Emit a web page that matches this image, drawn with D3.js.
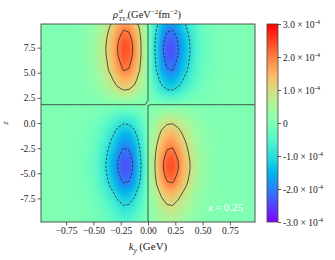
<!DOCTYPE html>
<html>
<head>
<meta charset="utf-8">
<script src="https://cdn.jsdelivr.net/npm/d3@7"></script>
<style>
  body { margin: 0; background: #fff; }
  text { font-family: "Liberation Serif", "DejaVu Serif", serif; fill: #222; }
</style>
</head>
<body>
<svg id="chart" width="335" height="260"></svg>
<script>
// grid: ky columns, z rows
var kyValues = [-0.975, -0.925, -0.875, -0.825, -0.775, -0.725, -0.675, -0.625, -0.575, -0.525,
  -0.475, -0.425, -0.375, -0.325, -0.275, -0.225, -0.175, -0.125, -0.075, -0.025,
  0.025, 0.075, 0.125, 0.175, 0.225, 0.275, 0.325, 0.375, 0.425, 0.475,
  0.525, 0.575, 0.625, 0.675, 0.725, 0.775, 0.825, 0.875, 0.925, 0.975];
var kyProfile = [0.0002, 0.0005, 0.001, 0.002, 0.004, 0.008, 0.015, 0.03, 0.055, 0.10,
  0.17, 0.29, 0.44, 0.62, 0.83, 0.98, 0.95, 0.76, 0.48, 0.17,
  -0.17, -0.48, -0.76, -0.95, -0.98, -0.83, -0.62, -0.44, -0.29, -0.17,
  -0.10, -0.055, -0.03, -0.015, -0.008, -0.004, -0.002, -0.001, -0.0005, -0.0002];
var zValues = [-9.75, -9.25, -8.75, -8.25, -7.75, -7.25, -6.75, -6.25, -5.75, -5.25,
  -4.75, -4.25, -3.75, -3.25, -2.75, -2.25, -1.75, -1.25, -0.75, -0.25,
  0.25, 0.75, 1.25, 1.75, 2.25, 2.75, 3.25, 3.75, 4.25, 4.75,
  5.25, 5.75, 6.25, 6.75, 7.25, 7.75, 8.25, 8.75, 9.25, 9.75];
var zProfile = [-0.22, -0.28, -0.34, -0.41, -0.48, -0.56, -0.66, -0.78, -0.87, -0.93,
  -0.98, -1.0, -0.98, -0.93, -0.87, -0.80, -0.72, -0.64, -0.55, -0.45,
  -0.35, -0.24, -0.13, -0.02, 0.12, 0.26, 0.41, 0.53, 0.63, 0.72,
  0.84, 0.89, 0.94, 0.98, 1.0, 0.99, 0.96, 0.90, 0.83, 0.74];
var peak = 2.45e-4;
var contourLevels = [-2e-4, -1e-4, 0, 1e-4, 2e-4];
var xTicks = [-0.75, -0.5, -0.25, 0, 0.25, 0.5, 0.75];
var yTicks = [-7.5, -5, -2.5, 0, 2.5, 5, 7.5];
var cbTicks = [-3e-4, -2e-4, -1e-4, 0, 1e-4, 2e-4, 3e-4];

(function() {
  var pLeft = 41, pRight = 255, pTop = 24, pBottom = 222;
  var svg = d3.select('#chart');

  var x = d3.scaleLinear().domain([-0.98, 0.98]).range([pLeft, pRight]);
  var y = d3.scaleLinear().domain([-9.85, 9.85]).range([pBottom, pTop]);

  // matplotlib "rainbow"
  function rainbow(t) {
    var r = Math.min(1, Math.abs(2 * t - 0.5)),
        g = Math.sin(Math.PI * t),
        b = Math.cos(Math.PI * t / 2);
    return d3.rgb(r * 255, g * 255, Math.max(0, b) * 255) + '';
  }
  var color = d3.scaleSequential(rainbow).domain([-3e-4, 3e-4]).clamp(true);

  var nx = kyValues.length, nz = zValues.length;
  var values = [];
  for (var j = 0; j < nz; j++) {
    for (var i = 0; i < nx; i++) {
      values.push(peak * kyProfile[i] * zProfile[nz - 1 - j]);
    }
  }

  // heat map image
  var canvas = document.createElement('canvas');
  canvas.width = nx; canvas.height = nz;
  var ctx = canvas.getContext('2d');
  var img = ctx.createImageData(nx, nz);
  values.forEach(function(v, k) {
    var c = d3.rgb(color(v));
    img.data[k * 4] = c.r; img.data[k * 4 + 1] = c.g; img.data[k * 4 + 2] = c.b; img.data[k * 4 + 3] = 255;
  });
  ctx.putImageData(img, 0, 0);

  var kyStep = kyValues[1] - kyValues[0], zStep = zValues[1] - zValues[0];
  var ky0 = kyValues[0] - kyStep / 2, zTop = zValues[nz - 1] + zStep / 2;

  svg.append('clipPath').attr('id', 'plotclip').append('rect')
    .attr('x', pLeft).attr('y', pTop).attr('width', pRight - pLeft).attr('height', pBottom - pTop);

  var plot = svg.append('g').attr('clip-path', 'url(#plotclip)');
  plot.append('image')
    .attr('href', canvas.toDataURL())
    .attr('x', x(ky0)).attr('y', y(zTop))
    .attr('width', x(ky0 + nx * kyStep) - x(ky0))
    .attr('height', y(zTop - nz * zStep) - y(zTop))
    .attr('preserveAspectRatio', 'none');

  var proj = d3.geoTransform({
    point: function(gx, gy) {
      this.stream.point(x(ky0 + gx * kyStep), y(zTop - gy * zStep));
    }
  });
  var contours = d3.contours().size([nx, nz]).smooth(true).thresholds(contourLevels)(values);
  plot.append('g').selectAll('path').data(contours).enter().append('path')
    .attr('d', d3.geoPath(proj))
    .attr('fill', 'none')
    .attr('stroke', '#222')
    .attr('stroke-width', 0.75)
    .attr('stroke-dasharray', function(d) { return d.value < 0 ? '2.5,1.5' : null; });

  svg.append('text').attr('x', 243).attr('y', 211).attr('text-anchor', 'end')
    .attr('font-size', 11).style('fill', '#fff')
    .html('<tspan font-style="italic">x</tspan>\u2009=\u20090.25');

  // axes
  var xAxis = svg.append('g').attr('transform', 'translate(0,' + pBottom + ')')
    .call(d3.axisBottom(x).tickValues(xTicks).tickSize(3.5).tickPadding(2).tickFormat(d3.format('.2f')));
  var yAxis = svg.append('g').attr('transform', 'translate(' + pLeft + ',0)')
    .call(d3.axisLeft(y).tickValues(yTicks).tickSize(3.5).tickPadding(2).tickFormat(function(d) { return d.toFixed(1); }));
  [xAxis, yAxis].forEach(function(a) {
    a.select('.domain').remove();
    a.selectAll('line').attr('stroke', '#333').attr('stroke-width', 0.8);
    a.selectAll('text').attr('font-size', 9.5).attr('font-family', null).style('fill', '#222');
  });

  svg.append('rect').attr('x', pLeft).attr('y', pTop).attr('width', pRight - pLeft).attr('height', pBottom - pTop)
    .attr('fill', 'none').attr('stroke', '#444').attr('stroke-width', 0.9);

  // titles
  svg.append('text').attr('x', 147).attr('y', 18).attr('font-size', 10.5).attr('text-anchor', 'middle')
    .html('<tspan font-style="italic">\u03c1</tspan>' +
          '<tspan font-style="italic" font-size="7" dy="-5" dx="1">d</tspan>' +
          '<tspan font-style="italic" font-size="7" dy="8" dx="-4">TU</tspan>' +
          '<tspan dy="-3">(GeV</tspan><tspan font-size="7" dy="-4">\u22122</tspan>' +
          '<tspan dy="4">fm</tspan><tspan font-size="7" dy="-4">\u22122</tspan><tspan dy="4">)</tspan>');

  svg.append('text').attr('x', 148).attr('y', 250).attr('text-anchor', 'middle').attr('font-size', 11)
    .html('<tspan font-style="italic">k</tspan><tspan font-style="italic" font-size="7.5" dy="2.5">y</tspan>' +
          '<tspan dy="-2.5">\u2009(GeV)</tspan>');

  svg.append('text').attr('transform', 'translate(8,' + y(0) + ') rotate(-90)')
    .attr('text-anchor', 'middle').attr('font-size', 9).attr('font-style', 'italic').text('z');

  // colour bar
  var cbX = 267, cbW = 11;
  var cb = d3.scaleLinear().domain([-3e-4, 3e-4]).range([pBottom, pTop]);
  var grad = svg.append('defs').append('linearGradient').attr('id', 'cbgrad')
    .attr('x1', 0).attr('y1', 1).attr('x2', 0).attr('y2', 0);
  d3.range(0, 1.0001, 0.05).forEach(function(t) {
    grad.append('stop').attr('offset', t).attr('stop-color', rainbow(t));
  });
  svg.append('rect').attr('x', cbX).attr('y', pTop).attr('width', cbW).attr('height', pBottom - pTop)
    .attr('fill', 'url(#cbgrad)').attr('stroke', '#444').attr('stroke-width', 0.8);

  var cbAxis = svg.append('g').attr('transform', 'translate(' + (cbX + cbW) + ',0)')
    .call(d3.axisRight(cb).tickValues(cbTicks).tickSize(3).tickPadding(2).tickFormat(''));
  cbAxis.select('.domain').remove();
  cbAxis.selectAll('line').attr('stroke', '#333').attr('stroke-width', 0.8);
  cbAxis.selectAll('.tick').append('text')
    .attr('x', 5).attr('dy', '0.32em').attr('font-size', 9.5).style('fill', '#222')
    .html(function(d) {
      if (d === 0) return '0';
      return (d / 1e-4).toFixed(1) + ' \u00d7 10<tspan font-size="6.5" dy="-4">-4</tspan>';
    });
})();
</script>
</body>
</html>
